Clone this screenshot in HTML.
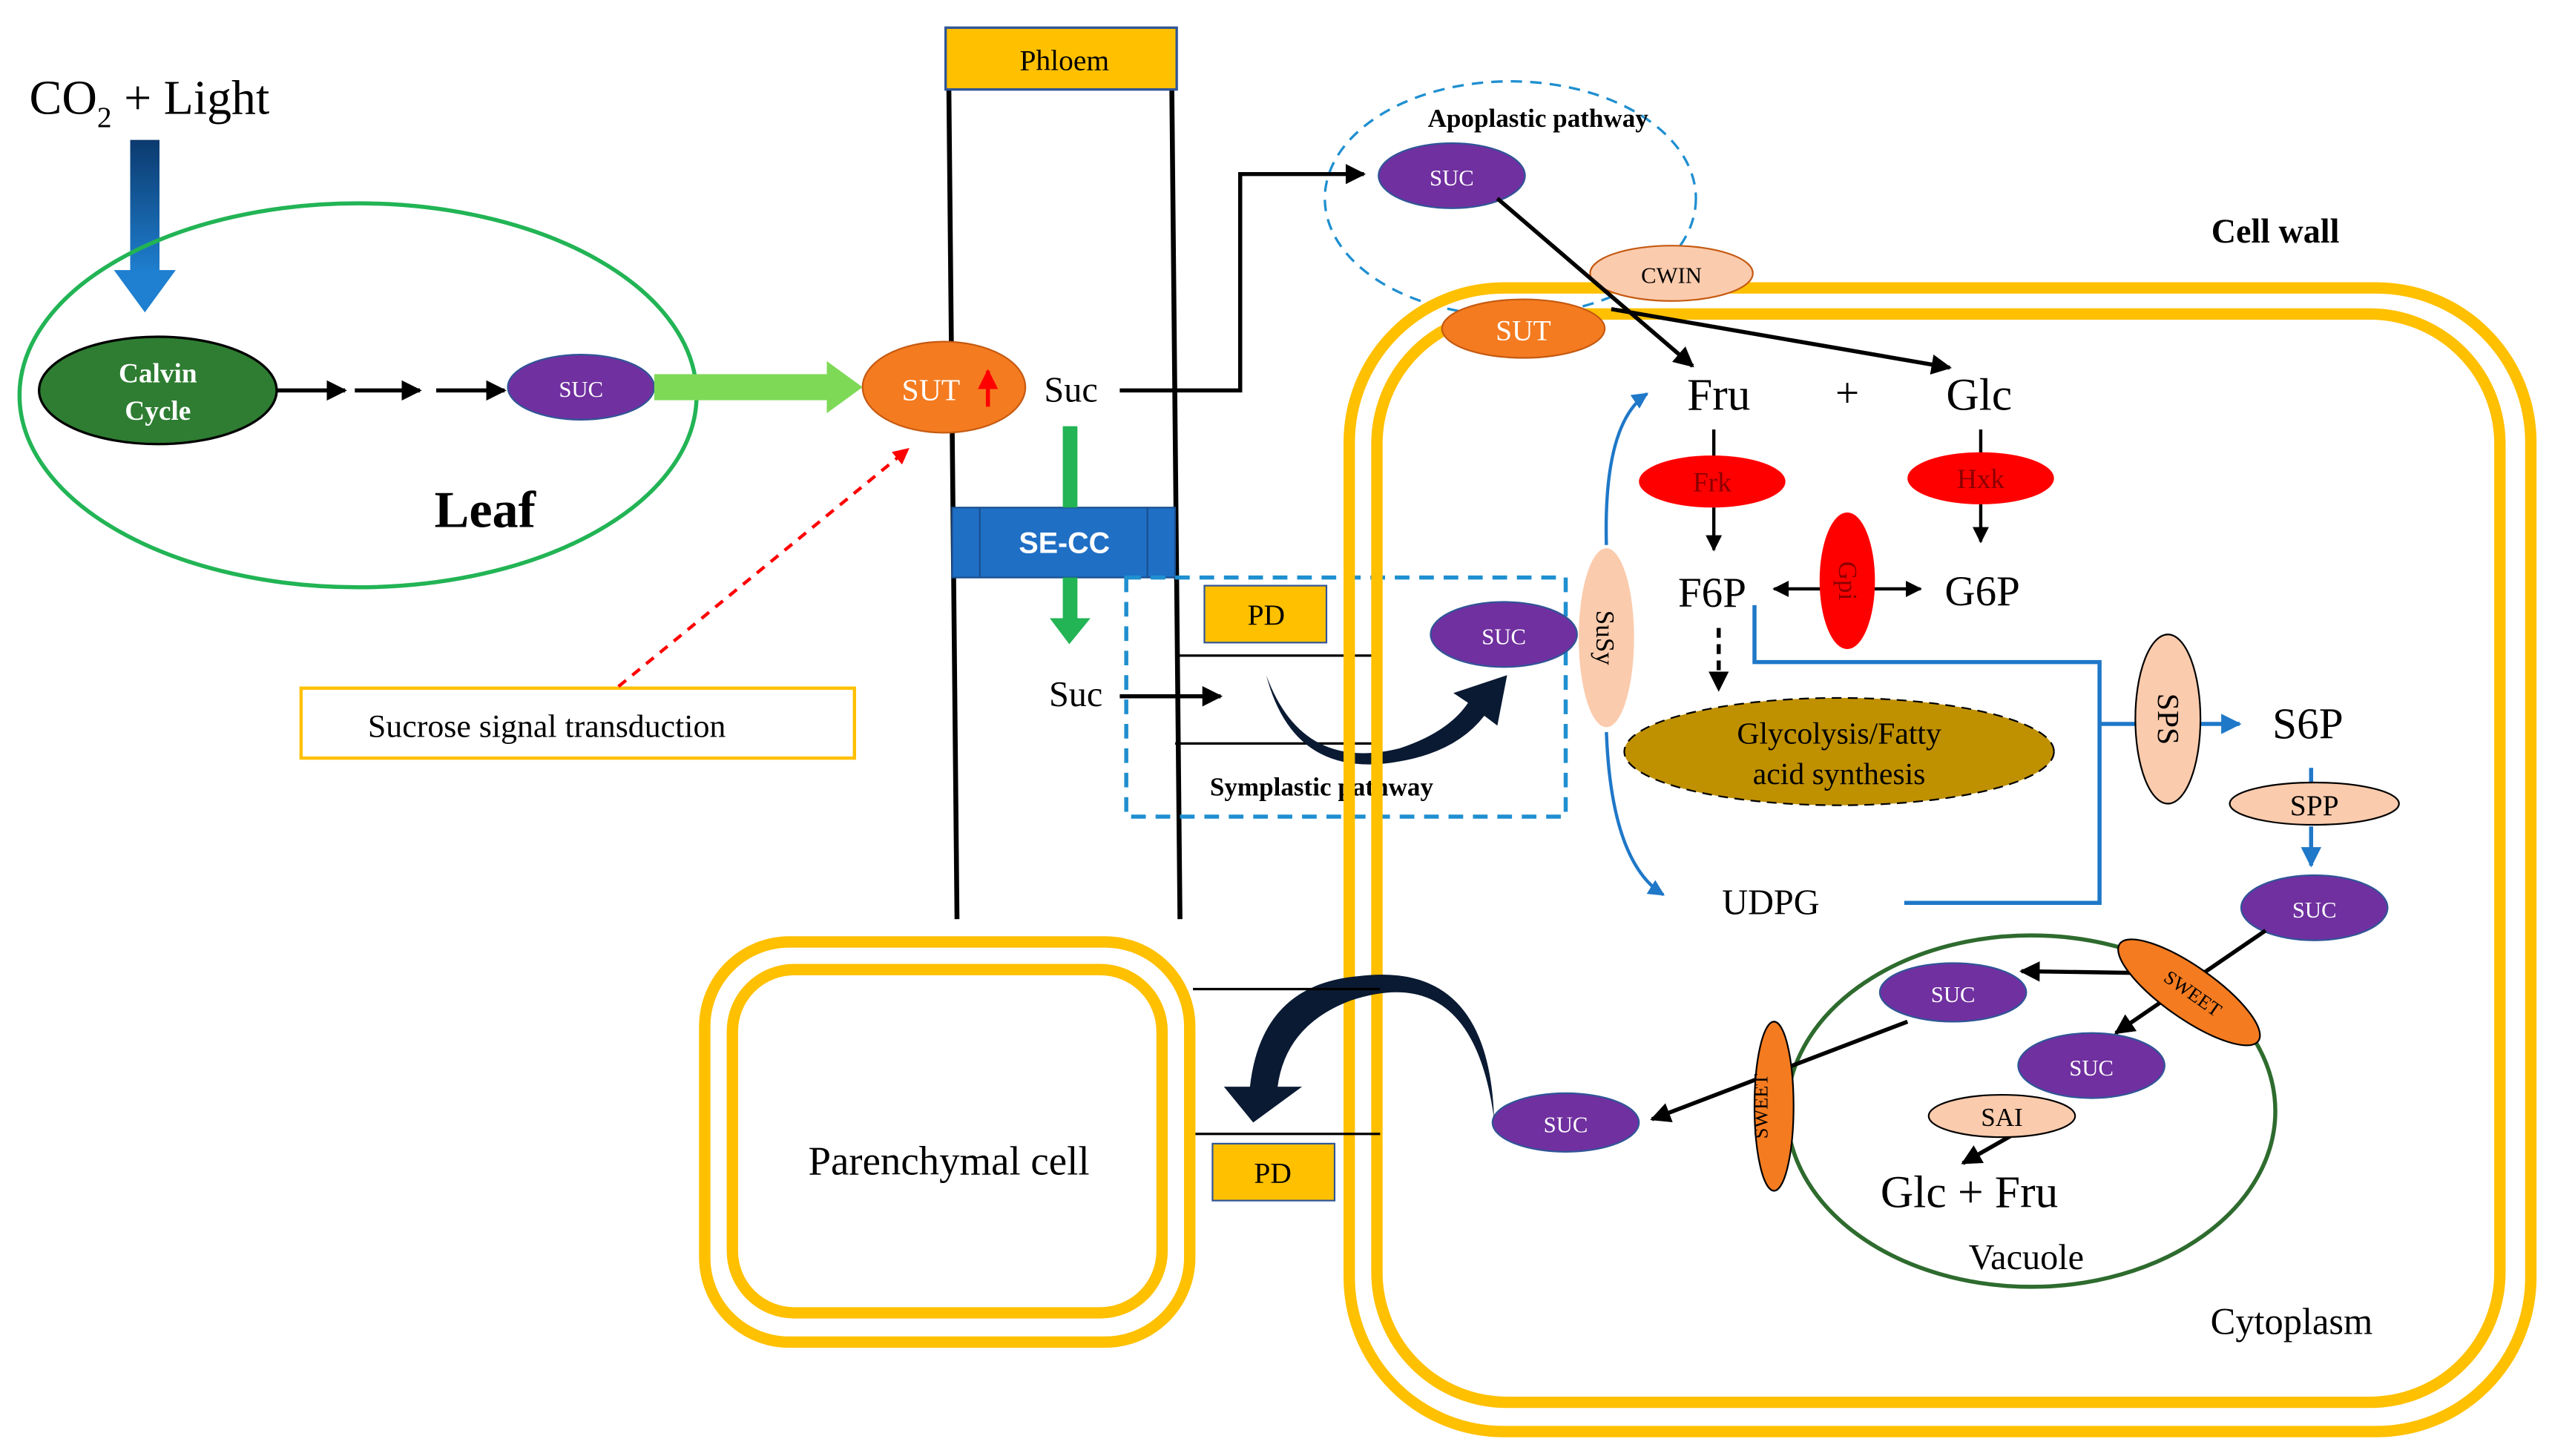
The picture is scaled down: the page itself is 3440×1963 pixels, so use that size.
<!DOCTYPE html>
<html><head><meta charset="utf-8"><style>
html,body{margin:0;padding:0;background:#fff;}
svg{display:block;}
text{font-family:"Liberation Serif",serif;}
.s{font-family:"Liberation Sans",sans-serif;}
</style></head><body>
<svg width="3440" height="1963" viewBox="0 0 1568 895" preserveAspectRatio="none" xmlns="http://www.w3.org/2000/svg">
<defs>
<marker id="a" viewBox="0 0 10 10" refX="9" refY="5" markerWidth="5" markerHeight="5" orient="auto-start-reverse"><path d="M0,0L10,5L0,10z" fill="#000"/></marker>
<marker id="b" viewBox="0 0 10 10" refX="9" refY="5" markerWidth="5" markerHeight="5" orient="auto"><path d="M0,0L10,5L0,10z" fill="#1f78c8"/></marker>
<marker id="r" viewBox="0 0 10 10" refX="9" refY="5" markerWidth="5" markerHeight="5" orient="auto"><path d="M0,0L10,5L0,10z" fill="#f00"/></marker>
<linearGradient id="g1" x1="0" y1="0" x2="0" y2="1"><stop offset="0" stop-color="#0b3a6e"/><stop offset="1" stop-color="#1f7fd0"/></linearGradient>
</defs>
<rect width="1568" height="895" fill="#fff"/>
<text x="18" y="70" font-size="30">CO<tspan font-size="18" dy="8">2</tspan><tspan dy="-8"> + Light</tspan></text>
<rect x="80" y="86" width="18" height="82" fill="url(#g1)"/>
<path d="M70,166L108,166L89,192z" fill="#1f7fd0"/>
<ellipse cx="220" cy="243" rx="208" ry="118" fill="none" stroke="#22b455" stroke-width="2.5"/>
<ellipse cx="97" cy="240" rx="73" ry="33" fill="#2e7d32" stroke="#000" stroke-width="1.5"/>
<text x="97" y="235" font-size="17" font-weight="bold" fill="#fff" text-anchor="middle">Calvin</text>
<text x="97" y="258" font-size="17" font-weight="bold" fill="#fff" text-anchor="middle">Cycle</text>
<g stroke="#000" stroke-width="2.5" marker-end="url(#a)"><line x1="170" y1="240" x2="212" y2="240"/><line x1="218" y1="240" x2="258" y2="240"/><line x1="268" y1="240" x2="310" y2="240"/></g>
<ellipse cx="357" cy="238" rx="45" ry="20" fill="#7030a0" stroke="#2f5597"/>
<text x="357" y="244" font-size="14" fill="#fff" text-anchor="middle">SUC</text>
<rect x="402" y="230" width="108" height="16" fill="#7ed957"/>
<path d="M508,222L530,238L508,254z" fill="#7ed957"/>
<text x="298" y="324" font-size="32" font-weight="bold" text-anchor="middle">Leaf</text>
<rect x="185" y="423" width="340" height="43" fill="#fff" stroke="#ffc000" stroke-width="2"/>
<text x="336" y="453" font-size="20" text-anchor="middle">Sucrose signal transduction</text>
<line x1="380" y1="422" x2="558" y2="276" stroke="#f00" stroke-width="2" stroke-dasharray="6,5" marker-end="url(#r)"/>
<line x1="583" y1="55" x2="588" y2="565" stroke="#000" stroke-width="3"/>
<line x1="720" y1="55" x2="725" y2="565" stroke="#000" stroke-width="3"/>
<rect x="581" y="17" width="142" height="38" fill="#ffc000" stroke="#2f5597" stroke-width="1.5"/>
<text x="654" y="43" font-size="18" text-anchor="middle">Phloem</text>
<ellipse cx="580" cy="238" rx="50" ry="28" fill="#f47b20" stroke="#c55a11"/>
<text x="572" y="246" font-size="19" fill="#fff" text-anchor="middle">SUT</text>
<line x1="607" y1="250" x2="607" y2="228" stroke="#f00" stroke-width="2.5" marker-end="url(#r)"/>
<text x="658" y="247" font-size="22" text-anchor="middle">Suc</text>
<rect x="585" y="312" width="137" height="43" fill="#1f6fc5" stroke="#1a4f8f"/>
<line x1="602" y1="312" x2="602" y2="355" stroke="#1a4f8f"/><line x1="705" y1="312" x2="705" y2="355" stroke="#1a4f8f"/>
<text x="654" y="340" font-size="18" font-weight="bold" fill="#fff" text-anchor="middle" class="s">SE-CC</text>
<rect x="653" y="262" width="9" height="50" fill="#22b455"/>
<rect x="653" y="355" width="9" height="28" fill="#22b455"/>
<path d="M645,380L670,380L657,396z" fill="#22b455"/>
<text x="661" y="434" font-size="22" text-anchor="middle">Suc</text>
<line x1="688" y1="428" x2="750" y2="428" stroke="#000" stroke-width="2.5" marker-end="url(#a)"/>
<rect x="692" y="355" width="270" height="147" fill="none" stroke="#1f8fd0" stroke-width="2.5" stroke-dasharray="9,6"/>
<rect x="740" y="360" width="75" height="35" fill="#ffc000" stroke="#2f5597"/>
<text x="778" y="384" font-size="18" text-anchor="middle">PD</text>
<line x1="722" y1="403" x2="848" y2="403" stroke="#000" stroke-width="1.5"/>
<line x1="722" y1="457" x2="848" y2="457" stroke="#000" stroke-width="1.5"/>
<path d="M778,415 Q800,475 860,460 Q890,450 902,432 L893,426 L926,415 L920,446 L912,440 Q895,462 860,468 Q795,480 778,415z" fill="#0a1a33"/>
<text x="812" y="489" font-size="16" font-weight="bold" text-anchor="middle">Symplastic pathway</text>
<ellipse cx="924" cy="390" rx="45" ry="20" fill="#7030a0" stroke="#2f5597"/>
<text x="924" y="396" font-size="14" fill="#fff" text-anchor="middle">SUC</text>
<ellipse cx="928" cy="122" rx="114" ry="72" fill="none" stroke="#1f8fd0" stroke-width="1.5" stroke-dasharray="7,5"/>
<text x="945" y="78" font-size="16" font-weight="bold" text-anchor="middle">Apoplastic pathway</text>
<polyline points="688,240 762,240 762,107 838,107" fill="none" stroke="#000" stroke-width="2.5" marker-end="url(#a)"/>
<rect x="829" y="177" width="726" height="703" rx="95" fill="none" stroke="#ffc000" stroke-width="7"/>
<rect x="846" y="193" width="690" height="669" rx="80" fill="none" stroke="#ffc000" stroke-width="7"/>
<text x="1398" y="149" font-size="21" font-weight="bold" text-anchor="middle">Cell wall</text>
<ellipse cx="1027" cy="168" rx="50" ry="17" fill="#fbcbad" stroke="#c55a11"/>
<text x="1027" y="174" font-size="14" text-anchor="middle">CWIN</text>
<ellipse cx="936" cy="202" rx="50" ry="18" fill="#f47b20" stroke="#c55a11"/>
<text x="936" y="209" font-size="18" fill="#fff" text-anchor="middle">SUT</text>
<ellipse cx="892" cy="108" rx="45" ry="20" fill="#7030a0" stroke="#2f5597"/>
<text x="892" y="114" font-size="14" fill="#fff" text-anchor="middle">SUC</text>
<line x1="920" y1="122" x2="1040" y2="225" stroke="#000" stroke-width="2.5" marker-end="url(#a)"/>
<line x1="990" y1="190" x2="1198" y2="226" stroke="#000" stroke-width="2.5" marker-end="url(#a)"/>
<text x="1056" y="252" font-size="28" text-anchor="middle">Fru</text>
<text x="1135" y="250" font-size="26" text-anchor="middle">+</text>
<text x="1216" y="252" font-size="28" text-anchor="middle">Glc</text>
<line x1="1053" y1="264" x2="1053" y2="282" stroke="#000" stroke-width="2"/>
<line x1="1217" y1="264" x2="1217" y2="280" stroke="#000" stroke-width="2"/>
<ellipse cx="1052" cy="296" rx="45" ry="16" fill="#f00"/>
<text x="1052" y="302" font-size="17" fill="#8b0000" text-anchor="middle">Frk</text>
<ellipse cx="1217" cy="294" rx="45" ry="16" fill="#f00"/>
<text x="1217" y="300" font-size="17" fill="#8b0000" text-anchor="middle">Hxk</text>
<line x1="1053" y1="312" x2="1053" y2="338" stroke="#000" stroke-width="2" marker-end="url(#a)"/>
<line x1="1217" y1="310" x2="1217" y2="333" stroke="#000" stroke-width="2" marker-end="url(#a)"/>
<text x="1052" y="373" font-size="26" text-anchor="middle">F6P</text>
<text x="1218" y="372" font-size="26" text-anchor="middle">G6P</text>
<line x1="1090" y1="362" x2="1180" y2="362" stroke="#000" stroke-width="2" marker-start="url(#a)" marker-end="url(#a)"/>
<ellipse cx="1135" cy="357" rx="17" ry="42" fill="#f00"/>
<text x="0" y="0" font-size="16" fill="#8b0000" text-anchor="middle" transform="translate(1130,357) rotate(90)">Gpi</text>
<path d="M987,335 Q985,260 1012,242" fill="none" stroke="#1f78c8" stroke-width="2" marker-end="url(#b)"/>
<path d="M987,450 Q990,530 1022,550" fill="none" stroke="#1f78c8" stroke-width="2" marker-end="url(#b)"/>
<ellipse cx="987" cy="392" rx="17" ry="55" fill="#fbcbad"/>
<text x="0" y="0" font-size="16" text-anchor="middle" transform="translate(981,392) rotate(90)">SuSy</text>
<line x1="1056" y1="386" x2="1056" y2="424" stroke="#000" stroke-width="2.5" stroke-dasharray="6,4" marker-end="url(#a)"/>
<ellipse cx="1130" cy="462" rx="132" ry="33" fill="#bf9000" stroke="#000" stroke-dasharray="6,4"/>
<text x="1130" y="457" font-size="19" text-anchor="middle">Glycolysis/Fatty</text>
<text x="1130" y="482" font-size="19" text-anchor="middle">acid synthesis</text>
<text x="1088" y="562" font-size="22" text-anchor="middle">UDPG</text>
<polyline points="1078,372 1078,407 1290,407 1290,555 1170,555" fill="none" stroke="#1f78c8" stroke-width="2.5"/>
<line x1="1290" y1="445" x2="1376" y2="445" stroke="#1f78c8" stroke-width="2.5" marker-end="url(#b)"/>
<ellipse cx="1332" cy="442" rx="20" ry="52" fill="#fbcbad" stroke="#000"/>
<text x="0" y="0" font-size="19" text-anchor="middle" transform="translate(1326,442) rotate(90)">SPS</text>
<text x="1418" y="454" font-size="27" text-anchor="middle">S6P</text>
<line x1="1420" y1="472" x2="1420" y2="482" stroke="#1f78c8" stroke-width="2.5"/>
<ellipse cx="1422" cy="494" rx="52" ry="13" fill="#fbcbad" stroke="#000"/>
<text x="1422" y="501" font-size="18" text-anchor="middle">SPP</text>
<line x1="1420" y1="508" x2="1420" y2="532" stroke="#1f78c8" stroke-width="2.5" marker-end="url(#b)"/>
<ellipse cx="1422" cy="558" rx="45" ry="20" fill="#7030a0" stroke="#2f5597"/>
<text x="1422" y="564" font-size="14" fill="#fff" text-anchor="middle">SUC</text>
<ellipse cx="1248" cy="683" rx="150" ry="108" fill="none" stroke="#2e6b2e" stroke-width="2.5"/>
<text x="1245" y="780" font-size="22" text-anchor="middle">Vacuole</text>
<line x1="1392" y1="572" x2="1300" y2="635" stroke="#000" stroke-width="2.5" marker-end="url(#a)"/>
<line x1="1310" y1="598" x2="1242" y2="597" stroke="#000" stroke-width="2.5" marker-end="url(#a)"/>
<ellipse cx="1345" cy="610" rx="52" ry="16" fill="#f47b20" stroke="#000" transform="rotate(35 1345 610)"/>
<text x="0" y="0" font-size="12" text-anchor="middle" transform="translate(1345,614) rotate(35)">SWEET</text>
<ellipse cx="1200" cy="610" rx="45" ry="18" fill="#7030a0" stroke="#2f5597"/>
<text x="1200" y="616" font-size="14" fill="#fff" text-anchor="middle">SUC</text>
<ellipse cx="1285" cy="655" rx="45" ry="20" fill="#7030a0" stroke="#2f5597"/>
<text x="1285" y="661" font-size="14" fill="#fff" text-anchor="middle">SUC</text>
<line x1="1250" y1="690" x2="1206" y2="715" stroke="#000" stroke-width="2.5" marker-end="url(#a)"/>
<ellipse cx="1230" cy="686" rx="45" ry="13" fill="#fbcbad" stroke="#000"/>
<text x="1230" y="692" font-size="16" text-anchor="middle">SAI</text>
<text x="1210" y="742" font-size="28" text-anchor="middle">Glc + Fru</text>
<line x1="1172" y1="628" x2="1015" y2="688" stroke="#000" stroke-width="2.5" marker-end="url(#a)"/>
<ellipse cx="1090" cy="680" rx="12" ry="52" fill="#f47b20" stroke="#000"/>
<text x="0" y="0" font-size="12" text-anchor="middle" transform="translate(1086,680) rotate(-90)">SWEET</text>
<ellipse cx="962" cy="690" rx="45" ry="18" fill="#7030a0" stroke="#2f5597"/>
<text x="962" y="696" font-size="14" fill="#fff" text-anchor="middle">SUC</text>
<path d="M918,688 Q905,590 830,615 Q790,630 785,668 L800,668 L770,690 L752,668 L768,668 Q775,605 835,600 Q915,590 918,688z" fill="#0a1a33"/>
<line x1="733" y1="608" x2="848" y2="608" stroke="#000" stroke-width="1.5"/>
<line x1="733" y1="697" x2="848" y2="697" stroke="#000" stroke-width="1.5"/>
<rect x="745" y="703" width="75" height="35" fill="#ffc000" stroke="#2f5597"/>
<text x="782" y="727" font-size="18" text-anchor="middle">PD</text>
<rect x="433" y="579" width="298" height="246" rx="52" fill="none" stroke="#ffc000" stroke-width="7"/>
<rect x="450" y="596" width="264" height="211" rx="38" fill="none" stroke="#ffc000" stroke-width="7"/>
<text x="583" y="722" font-size="25" text-anchor="middle">Parenchymal cell</text>
<text x="1408" y="820" font-size="23" text-anchor="middle">Cytoplasm</text>
</svg>
</body></html>
